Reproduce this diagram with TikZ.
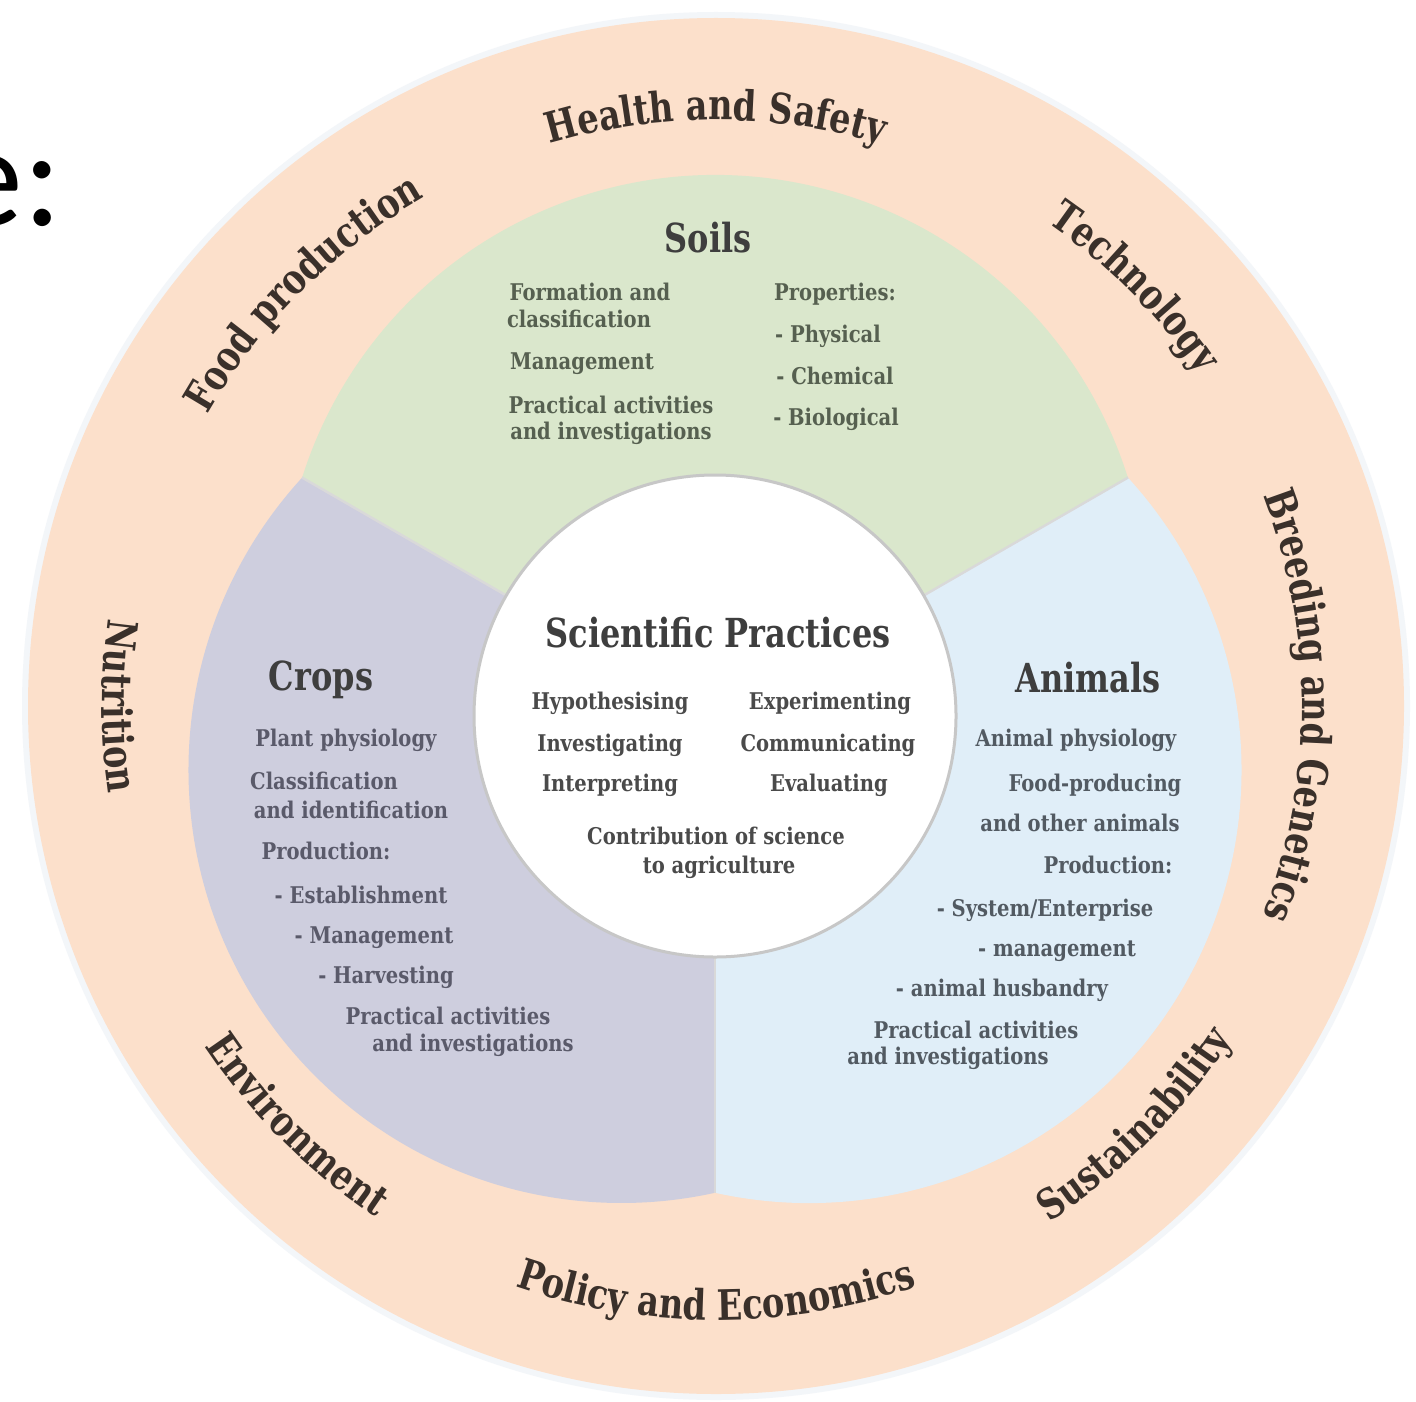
\documentclass[tikz,border=0pt]{standalone}
\usepackage{fontspec}
\setmainfont{DejaVu Serif}
\newfontfamily\slab[FakeStretch=0.85]{DejaVu Serif}
\newfontfamily\slabh[FakeStretch=0.8]{DejaVu Serif}
\newfontfamily\calib{Carlito}
\usetikzlibrary{calc,decorations.text}
\definecolor{peach}{HTML}{FCE0CB}
\definecolor{halo}{HTML}{F3F6F9}
\definecolor{soilcol}{HTML}{DAE7CC}
\definecolor{cropcol}{HTML}{CECEDE}
\definecolor{animcol}{HTML}{E0EEF8}
\definecolor{headcol}{HTML}{3E3E3E}
\definecolor{ringtext}{HTML}{3A302A}
\definecolor{soiltext}{HTML}{566050}
\definecolor{croptext}{HTML}{5A5A6A}
\definecolor{animtext}{HTML}{525A62}
\definecolor{sptext}{HTML}{4A4A4A}
\newcommand\ringfont{\slabh\bfseries\fontsize{21}{25}\selectfont}
\begin{document}
\begin{tikzpicture}[x=0.5pt,y=0.5pt,
  item/.style={font=\slab\bfseries\fontsize{11.5}{14}\selectfont, inner sep=0pt, text height=9pt, text depth=3pt},
  head/.style={font=\slabh\bfseries\fontsize{20}{24}\selectfont, text=headcol, inner sep=0pt},
  divider/.style={draw=black!15, line width=1.2},
  ringcw/.style={decorate, decoration={text along path, text align=center, text color=ringtext, text={|\ringfont|#1}}},
  ringccw/.style={decorate, decoration={text along path, text align=center, text color=ringtext, text={|\ringfont|#1}}}
]
\useasboundingbox (0,0) rectangle (1416,-1401);
\clip (0,0) rectangle (1416,-1401);
\fill[white] (0,0) rectangle (1416,-1401);
\coordinate (O) at (716,-706);
\coordinate (C) at (715,-716);

\node[font=\calib\fontsize{72}{80}\selectfont, anchor=base west, inner sep=0pt] (title) at (-49,-226) {e:};

% outer ring
\fill[halo] (O) circle[radius=694];
\fill[peach] (O) circle[radius=688];

% sectors
\path (C) ++(90:108) coordinate (As);
\path (C) ++(210:108) coordinate (Ac);
\path (C) ++(330:108) coordinate (Aa);
\fill[soilcol] (C) -- ($(As)+(17.5:433)$) arc[start angle=17.5,end angle=162.5,radius=433] -- cycle;
\fill[cropcol] (C) -- ($(Ac)+(137.5:433)$) arc[start angle=137.5,end angle=282.5,radius=433] -- cycle;
\fill[animcol] (C) -- ($(Aa)+(-102.5:433)$) arc[start angle=-102.5,end angle=42.5,radius=433] -- cycle;
\draw[divider] (C) -- ($(C)+(30:477)$);
\draw[divider] (C) -- ($(C)+(150:477)$);
\draw[divider] (C) -- ($(C)+(270:477)$);

% centre
\filldraw[fill=white, draw=black!22, line width=1.5] (C) circle[radius=241];

% ring labels (clockwise, tops outward)
\path[ringcw={Food production}] ($(O)+(175:586)$) arc[start angle=175,end angle=95,radius=586];
\path[ringcw={Health and Safety}] ($(O)+(130:586)$) arc[start angle=130,end angle=50,radius=586];
\path[ringcw={Technology}] ($(O)+(85:586)$) arc[start angle=85,end angle=5,radius=586];
\path[ringcw={Breeding and Genetics}] ($(O)+(40:586)$) arc[start angle=40,end angle=-40,radius=586];
% ring labels (counter-clockwise, tops inward)
\path[ringccw={Nutrition}] ($(O)+(140:614)$) arc[start angle=140,end angle=220,radius=614];
\path[ringccw={Environment}] ($(O)+(185:614)$) arc[start angle=185,end angle=265,radius=614];
\path[ringccw={Policy and Economics}] ($(O)+(230:614)$) arc[start angle=230,end angle=310,radius=614];
\path[ringccw={Sustainability}] ($(O)+(275:614)$) arc[start angle=275,end angle=355,radius=614];

% Soils
\node[head] (soils) at (708,-238) {Soils};
\begin{scope}[every node/.append style={item, text=soiltext}]
\node (s1) at (590,-294) {Formation and};
\node (s2) at (579,-322) {classification};
\node (s3) at (582,-363) {Management};
\node (s4) at (611,-407) {Practical activities};
\node (s5) at (611,-433) {and investigations};
\node (s6) at (835,-294) {Properties:};
\node (s7) at (828,-337) {- Physical};
\node (s8) at (835,-378) {- Chemical};
\node (s9) at (836,-419) {- Biological};
\end{scope}

% Scientific practices
\node[head] (sp) at (718,-633) {Scientific Practices};
\begin{scope}[every node/.append style={item, text=sptext}]
\node (p1) at (610,-703) {Hypothesising};
\node (p2) at (610,-745) {Investigating};
\node (p3) at (610,-785) {Interpreting};
\node (p4) at (830,-703) {Experimenting};
\node (p5) at (828,-745) {Communicating};
\node (p6) at (829,-785) {Evaluating};
\node (p7) at (716,-838) {Contribution of science};
\node (p8) at (719,-867) {to agriculture};
\end{scope}

% Crops
\node[head] (crops) at (321,-680) {Crops};
\begin{scope}[every node/.append style={item, text=croptext}]
\node (c1) at (346,-740) {Plant physiology};
\node (c2) at (324,-783) {Classification};
\node (c3) at (351,-812) {and identification};
\node (c4) at (326,-853) {Production:};
\node (c5) at (361,-897) {- Establishment};
\node (c6) at (374,-937) {- Management};
\node (c7) at (386,-977) {- Harvesting};
\node (c8) at (448,-1018) {Practical activities};
\node (c9) at (473,-1045) {and investigations};
\end{scope}

% Animals
\node[head] (animals) at (1088,-678) {Animals};
\begin{scope}[every node/.append style={item, text=animtext}]
\node (a1) at (1076,-740) {Animal physiology};
\node (a2) at (1095,-785) {Food-producing};
\node (a3) at (1080,-825) {and other animals};
\node (a4) at (1108,-867) {Production:};
\node (a5) at (1045,-910) {- System/Enterprise};
\node (a6) at (1057,-950) {- management};
\node (a7) at (1002,-990) {- animal husbandry};
\node (a8) at (976,-1032) {Practical activities};
\node (a9) at (948,-1058) {and investigations};
\end{scope}
\end{tikzpicture}
\end{document}
